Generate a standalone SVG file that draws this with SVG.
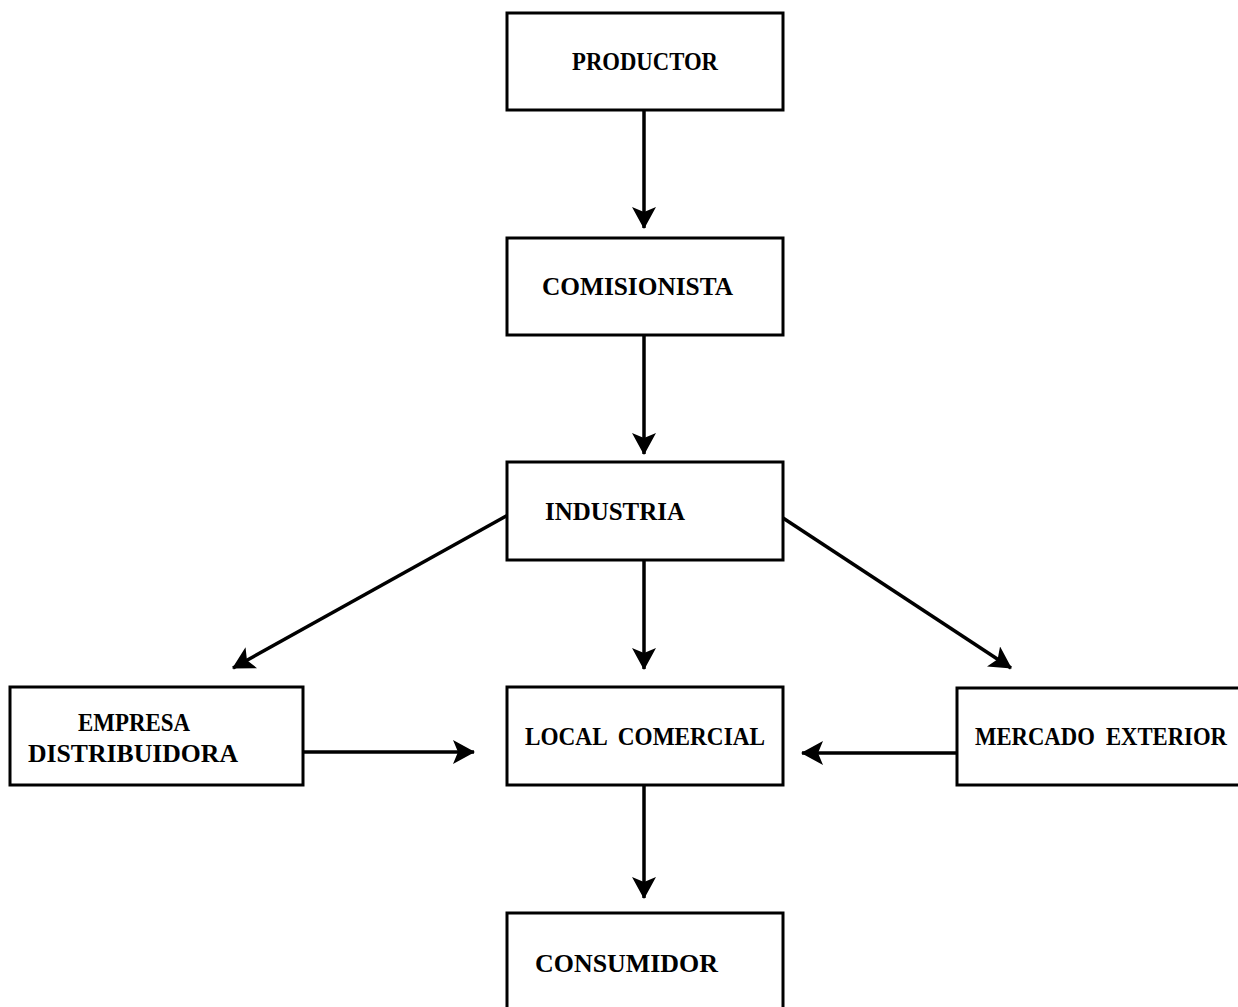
<svg xmlns="http://www.w3.org/2000/svg" width="1238" height="1007" viewBox="0 0 1238 1007">
<style>
.box{fill:#fff;stroke:#000;stroke-width:3}
.lbl{font-family:"Liberation Serif","DejaVu Serif",serif;font-weight:bold;font-size:25px;fill:#000;text-anchor:start}
.con{stroke:#000;stroke-width:3.5;fill:none;marker-end:url(#ah)}
</style>
<defs>
<marker id="ah" viewBox="0 0 22 24" refX="21" refY="12" markerWidth="22" markerHeight="24" markerUnits="userSpaceOnUse" orient="auto">
<path d="M0,0 L22,12 L0,24 L5,12 Z" fill="#000"/>
</marker>
</defs>
<rect width="1238" height="1007" fill="#fff"/>
<g id="connectors">
<line class="con" x1="644" y1="110" x2="644" y2="228"/>
<line class="con" x1="644" y1="335" x2="644" y2="454"/>
<line class="con" x1="644" y1="560" x2="644" y2="669"/>
<line class="con" x1="644" y1="786" x2="644" y2="898"/>
<line class="con" x1="508" y1="515" x2="233" y2="668"/>
<line class="con" x1="783" y1="518" x2="1011" y2="668"/>
<line class="con" x1="303" y1="752" x2="474" y2="752"/>
<line class="con" x1="957" y1="753" x2="802" y2="753"/>
</g>
<g id="productor">
<rect class="box" x="507" y="13" width="276" height="97"/>
<text class="lbl" x="572" y="70" textLength="146" lengthAdjust="spacingAndGlyphs">PRODUCTOR</text>
</g>
<g id="comisionista">
<rect class="box" x="507" y="238" width="276" height="97"/>
<text class="lbl" x="542" y="295" textLength="191" lengthAdjust="spacingAndGlyphs">COMISIONISTA</text>
</g>
<g id="industria">
<rect class="box" x="507" y="462" width="276" height="98"/>
<text class="lbl" x="545" y="520" textLength="140" lengthAdjust="spacingAndGlyphs">INDUSTRIA</text>
</g>
<g id="empresa-distribuidora">
<rect class="box" x="10" y="687" width="293" height="98"/>
<text class="lbl" x="78" y="731" textLength="112" lengthAdjust="spacingAndGlyphs">EMPRESA</text>
<text class="lbl" x="28" y="762" textLength="210" lengthAdjust="spacingAndGlyphs">DISTRIBUIDORA</text>
</g>
<g id="local-comercial">
<rect class="box" x="507" y="687" width="276" height="98"/>
<text class="lbl" x="525" y="745" textLength="240" lengthAdjust="spacingAndGlyphs" word-spacing="6">LOCAL COMERCIAL</text>
</g>
<g id="mercado-exterior">
<rect class="box" x="957" y="688" width="290" height="97"/>
<text class="lbl" x="975" y="745" textLength="252" lengthAdjust="spacingAndGlyphs" word-spacing="6">MERCADO EXTERIOR</text>
</g>
<g id="consumidor">
<rect class="box" x="507" y="913" width="276" height="110"/>
<text class="lbl" x="535" y="972" textLength="183" lengthAdjust="spacingAndGlyphs">CONSUMIDOR</text>
</g>
</svg>
